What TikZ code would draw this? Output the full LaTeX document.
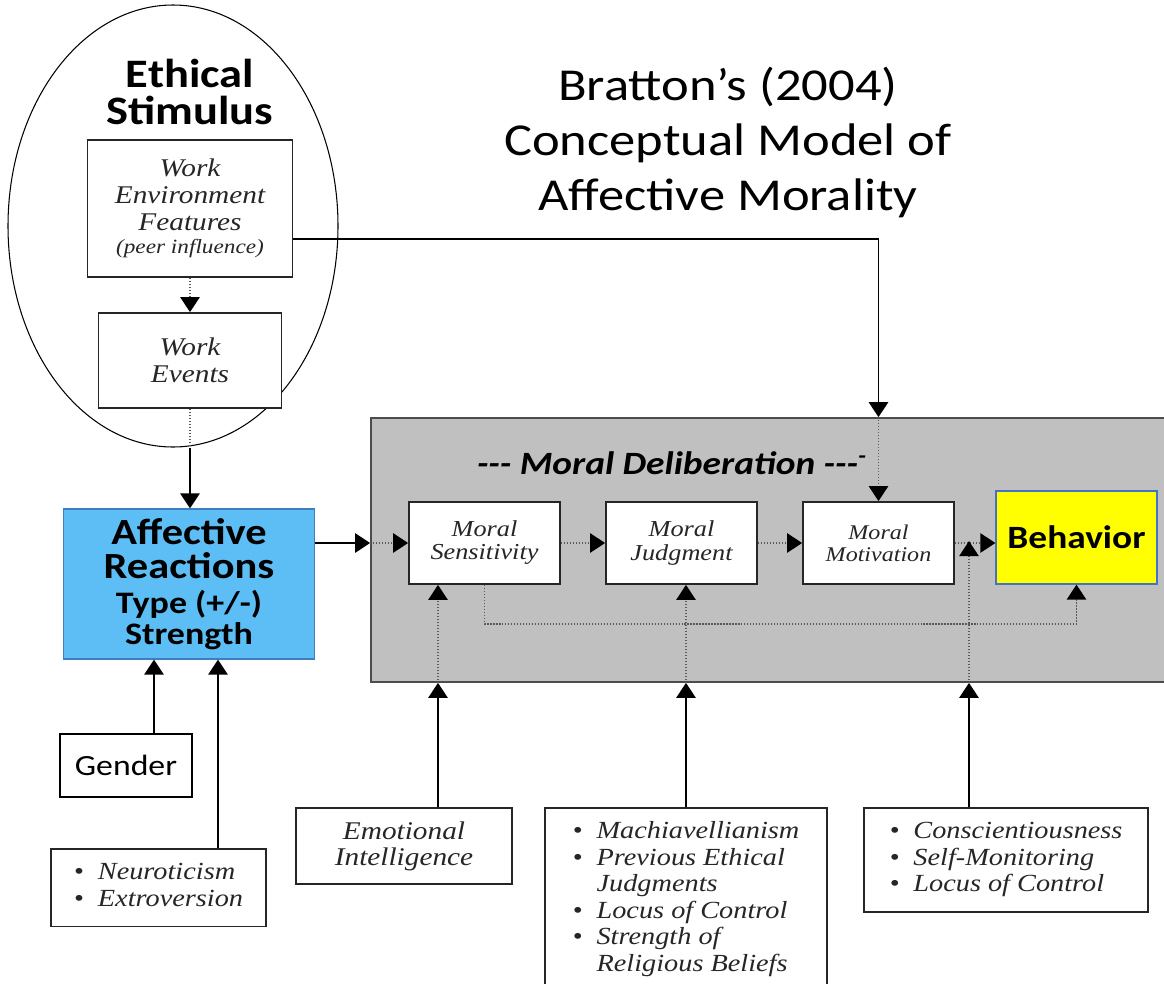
\documentclass[tikz,border=0pt]{standalone}
\usepackage{fontspec}
\setmainfont{Liberation Serif}[FakeStretch=1.15]
\newfontfamily\carlito{Carlito}[FakeStretch=1.15]
\usepackage{tikz}
\usetikzlibrary{shapes.geometric, arrows.meta, positioning, calc}
\definecolor{affblue}{HTML}{5CBEF5}
\definecolor{affedge}{HTML}{3F7FBF}
\definecolor{delibgray}{HTML}{C0C0C0}
\definecolor{behyellow}{HTML}{FFFF00}
\definecolor{behedge}{HTML}{4472C4}

\begin{document}
\begin{tikzpicture}[>={Triangle[width=11pt, length=8.5pt, color=black]},
    stimring/.style={ellipse, draw, line width=0.6pt, minimum width=6.6cm,
      minimum height=8.84cm, inner sep=0pt},
    serifbox/.style={rectangle, draw=black!85, line width=1pt, fill=white,
      text=black!85, align=center, font=\itshape\fontsize{14.5}{15.4}\selectfont},
    moralbox/.style={serifbox, minimum width=3.02cm, minimum height=1.64cm,
      font=\itshape\fontsize{13}{13.1}\selectfont},
    listbox/.style={serifbox, anchor=north, inner xsep=4pt, inner ysep=7pt,
      font=\itshape\fontsize{14}{15.1}\selectfont},
    affbox/.style={rectangle, draw=affedge, line width=0.7pt, fill=affblue,
      align=center, minimum width=5.02cm, minimum height=3cm,
      font=\carlito\bfseries\fontsize{21}{19.6}\selectfont},
    behbox/.style={rectangle, draw=behedge, line width=0.7pt, fill=behyellow,
      minimum width=3.22cm, minimum height=1.86cm,
      font=\carlito\bfseries\fontsize{18.5}{20}\selectfont},
    delibbox/.style={rectangle, draw=black!70, line width=1pt, fill=delibgray,
      minimum width=15.98cm, minimum height=5.28cm},
    solidarr/.style={->, line width=0.85pt},
    dotline/.style={densely dotted, line width=0.7pt, black!65},
    dotarr/.style={dotline, ->},
  ]
    \useasboundingbox (0,0) rectangle (23.28,-19.68);
    \clip (0,0) rectangle (23.28,-19.68);

    % Ethical stimulus
    \node[stimring] (stim) at (3.46,-4.52) {};
    \node[font=\carlito\bfseries\fontsize{23}{21.5}\selectfont, align=center]
      (ethic) at (3.8,-1.84) {Ethical\\Stimulus};
    \node[serifbox, minimum width=4.1cm, minimum height=2.74cm] (workenv) at (3.8,-4.17)
      {Work\\Environment\\Features\\[-2.5pt]{\fontsize{11.5}{12}\selectfont(peer influence)}};
    \node[serifbox, minimum width=3.66cm, minimum height=1.9cm] (workev) at (3.8,-7.21)
      {Work\\Events};

    \node[font=\carlito\fontsize{26}{31.3}\selectfont, align=center] (title) at (14.56,-2.84)
      {Bratton’s (2004)\\Conceptual Model of\\Affective Morality};

    \node[affbox] (affect) at (3.78,-11.68)
      {Affective\\Reactions\\{\fontsize{17.8}{16}\selectfont Type (+/-)}\\[-2pt]{\fontsize{17.8}{16}\selectfont Strength}};

    % Moral deliberation
    \node[delibbox] (delib) at (15.41,-11.0) {};
    \node[font=\carlito\bfseries\itshape\fontsize{18.5}{20}\selectfont] (delibtxt) at (13.44,-9.26)
      {-{}-{}- Moral Deliberation -{}-{}-\textsuperscript{-}};
    \node[moralbox] (sens)  at (9.69,-10.86)  {Moral\\Sensitivity};
    \node[moralbox] (judg)  at (13.63,-10.86) {Moral\\Judgment};
    \node[moralbox, font=\itshape\fontsize{11.9}{12.5}\selectfont] (motiv) at (17.57,-10.86)
      {Moral\\Motivation};
    \node[behbox]   (behav) at (21.53,-10.75) {Behavior};

    % Individual factors
    \node[rectangle, draw, line width=1pt, minimum width=2.64cm, minimum height=1.26cm,
      font=\carlito\fontsize{16.7}{18}\selectfont] (gender) at (2.52,-15.31) {Gender};
    \node[listbox, minimum width=4.3cm] (neuro) at (3.17,-16.96)
      {\begin{tabular}[t]{@{}l@{\hspace{8pt}}l@{}}
        \textbullet & Neuroticism\\
        \textbullet & Extroversion
      \end{tabular}};
    \node[serifbox, minimum width=4.32cm, minimum height=1.52cm,
      font=\itshape\fontsize{14.5}{14.8}\selectfont] (emot) at (8.08,-16.92)
      {Emotional\\Intelligence};
    \node[listbox, minimum width=5.64cm, text depth=3.2cm] (mach) at (13.72,-16.14)
      {\begin{tabular}[t]{@{}l@{\hspace{8pt}}l@{}}
        \textbullet & Machiavellianism\\
        \textbullet & Previous Ethical\\
                    & Judgments\\
        \textbullet & Locus of Control\\
        \textbullet & Strength of\\
                    & Religious Beliefs
      \end{tabular}};
    \node[listbox, minimum width=5.68cm] (consc) at (20.12,-16.14)
      {\begin{tabular}[t]{@{}l@{\hspace{8pt}}l@{}}
        \textbullet & Conscientiousness\\
        \textbullet & Self-Monitoring\\
        \textbullet & Locus of Control
      \end{tabular}};

    \coordinate (envout)   at ([yshift=-0.61cm]workenv.east);
    \coordinate (gendtop)  at ([xshift=0.56cm]gender.north);
    \coordinate (neurtop)  at ([xshift=1.19cm]neuro.north);
    \coordinate (emottop)  at ([xshift=0.68cm]emot.north);
    \coordinate (consctop) at ([xshift=-0.74cm]consc.north);
    \coordinate (gap)      at ($(motiv.east)!0.35!(behav.west)$);

    % stimulus flow
    \draw[dotarr]   (workenv) -- (workev);
    \draw[dotline]  (workev.south) -- (workev.south |- stim.south);
    \draw[solidarr] (workev.south |- stim.south) -- (workev.south |- affect.north);
    \draw[solidarr] (envout) -| (motiv.north |- delib.north);
    \draw[dotarr]   (motiv.north |- delib.north) -- (motiv.north);

    % deliberation chain
    \draw[solidarr] (affect.east |- sens.west) -- (delib.west |- sens.west);
    \draw[dotarr]   (delib.west |- sens.west) -- (sens.west);
    \draw[dotarr]   (sens) -- (judg);
    \draw[dotarr]   (judg) -- (motiv);
    \draw[dotarr]   (motiv.east) -- (motiv.east -| behav.west);
    \draw[dotarr]   (sens.south) -- ++(0,-0.78) -| (behav.south);

    % moderators
    \draw[solidarr] (gendtop) -- (gendtop |- affect.south);
    \draw[solidarr] (neurtop) -- (neurtop |- affect.south);
    \draw[solidarr] (emottop) -- (emottop |- delib.south);
    \draw[dotarr]   (emottop |- delib.south) -- (emottop |- sens.south);
    \draw[solidarr] (mach.north) -- (mach.north |- delib.south);
    \draw[dotarr]   (mach.north |- delib.south) -- (mach.north |- judg.south);
    \draw[solidarr] (consctop) -- (consctop |- delib.south);
    \draw[dotarr]   (consctop |- delib.south) -- (consctop |- gap);
  \end{tikzpicture}
\end{document}
